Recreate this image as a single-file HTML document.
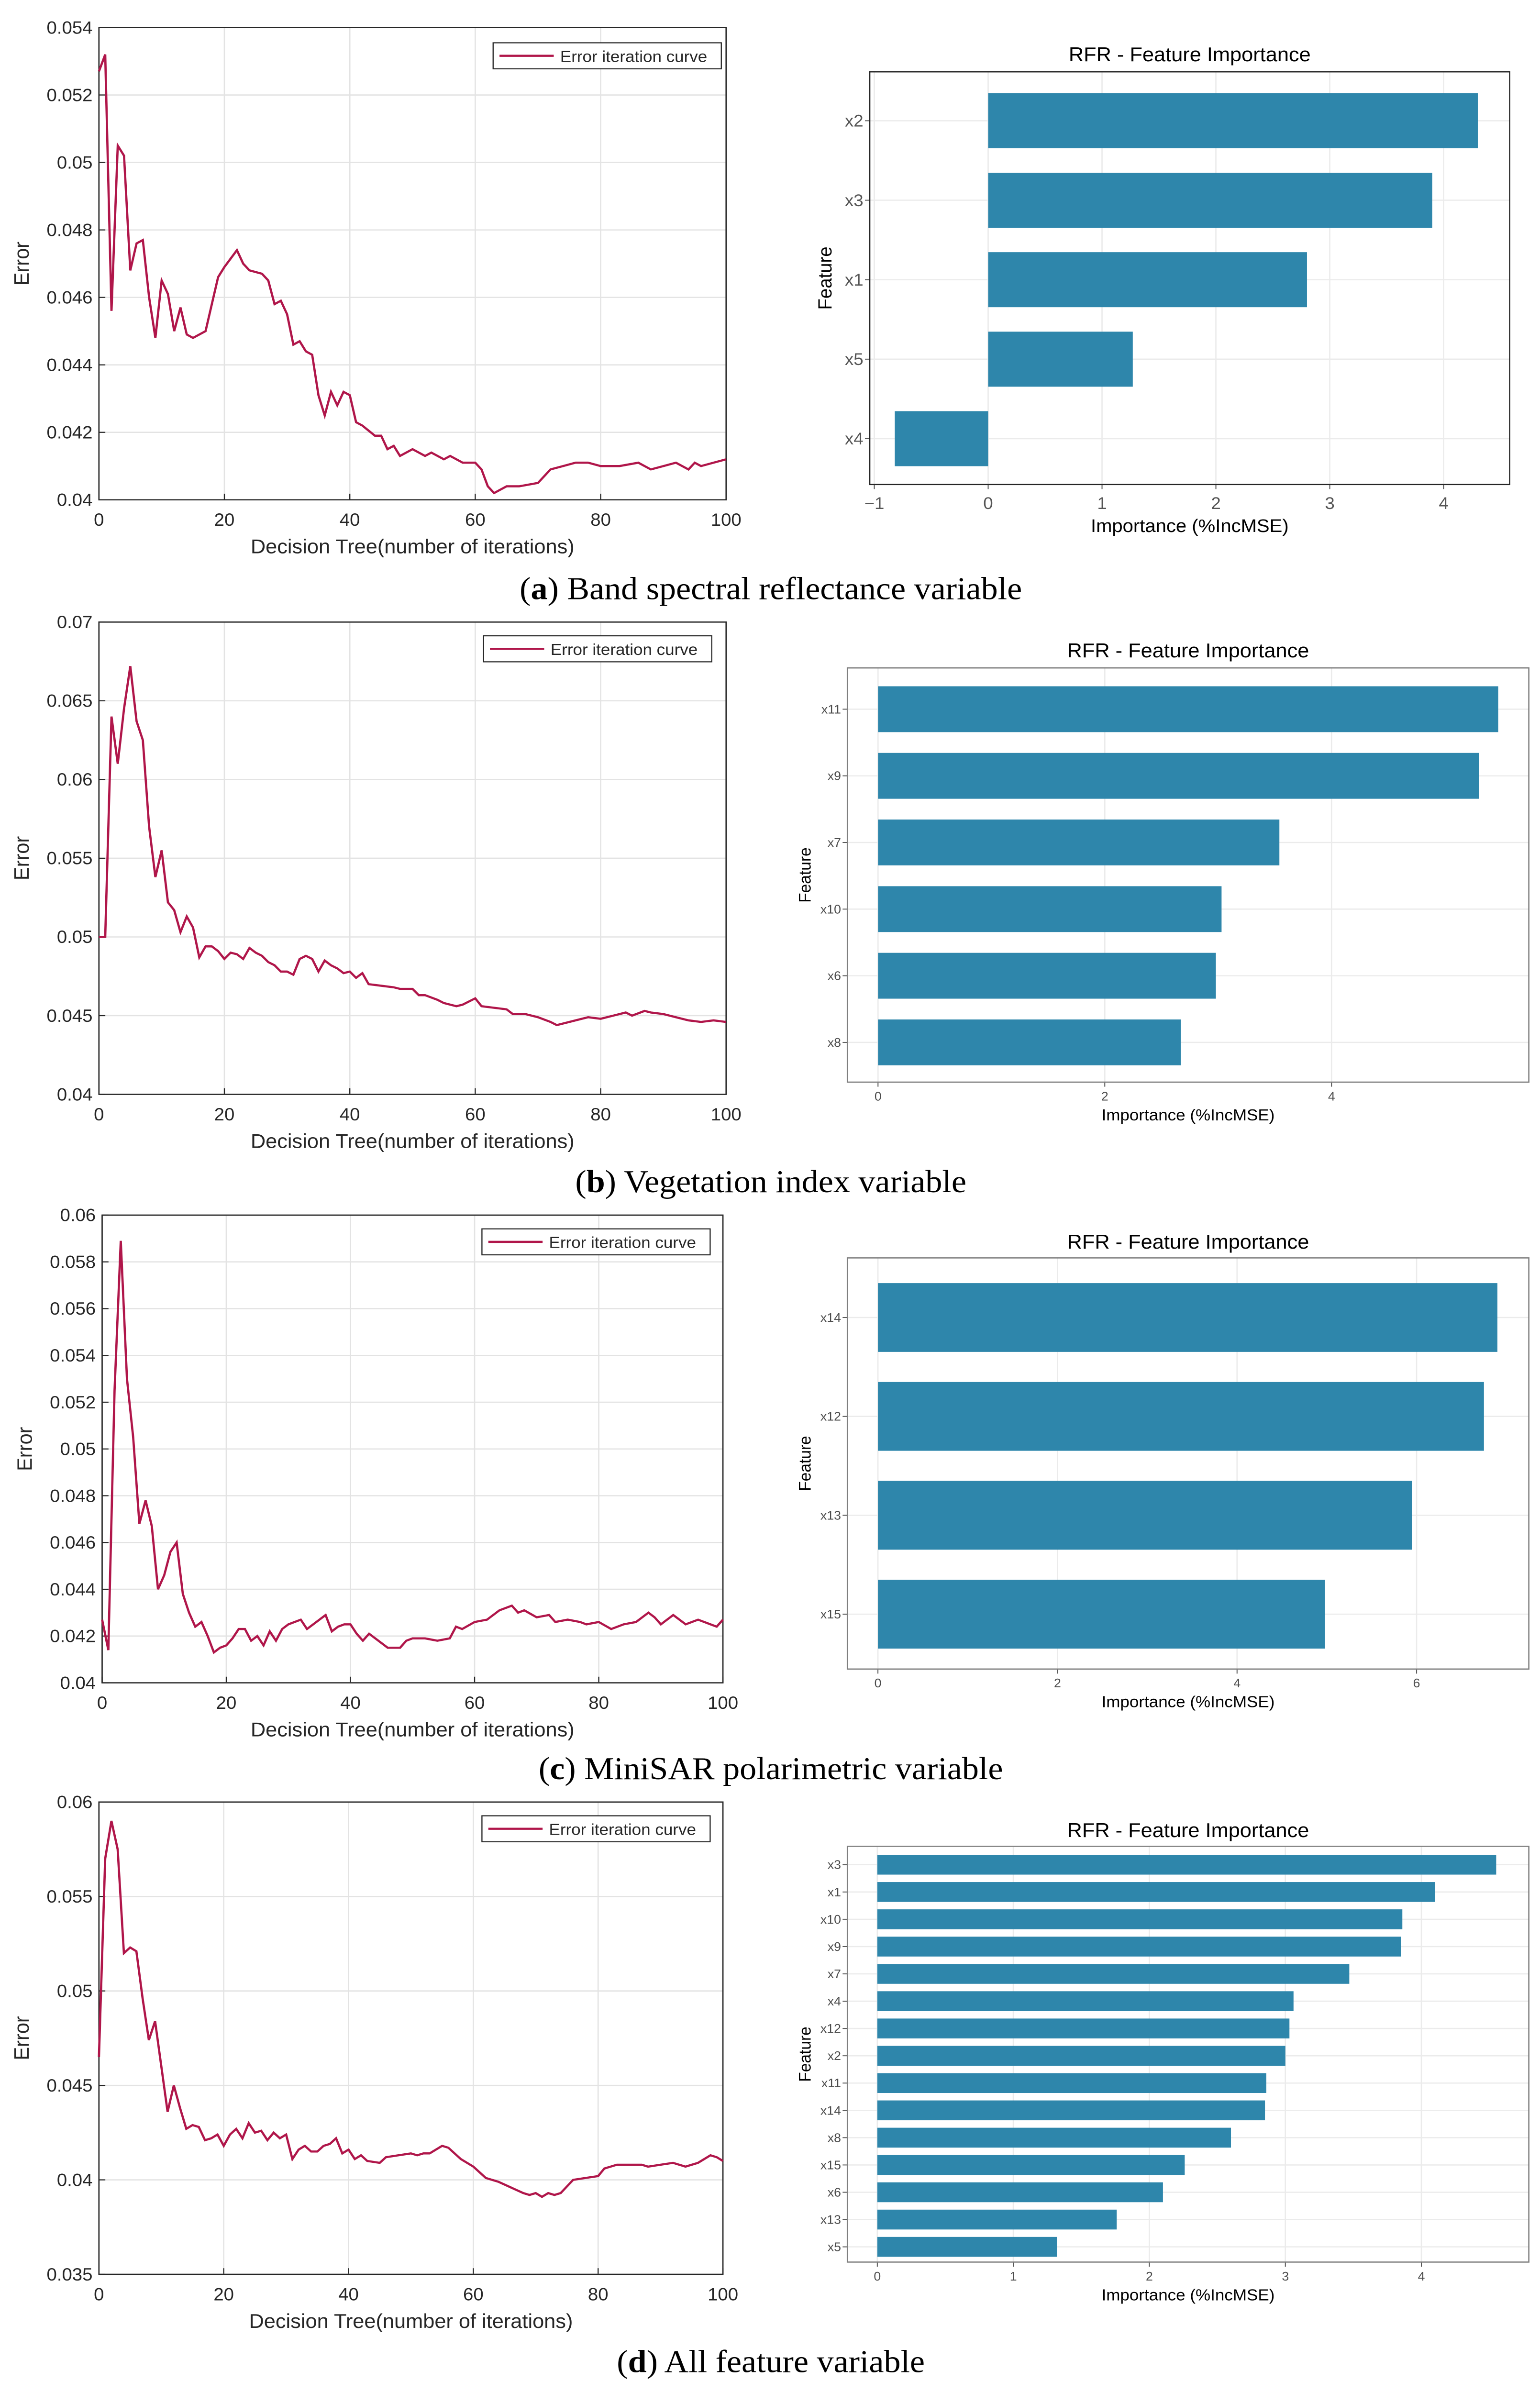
<!DOCTYPE html>
<html><head><meta charset="utf-8">
<style>html,body{margin:0;padding:0;background:#fff;width:100%;height:100%;overflow:hidden}svg{display:block;overflow:hidden;width:100vw;height:100vh}</style>
</head><body>
<svg id="fig" viewBox="0 0 965 1565" preserveAspectRatio="none" xmlns="http://www.w3.org/2000/svg" font-family="Liberation Sans, sans-serif"></svg>
<script>
// ---- Error curve data ----
const aX=[0,1,2,3,4,5,6,7,8,9,10,11,12,13,14,15,17,18,19,20,22,23,24,26,27,28,29,30,31,32,33,34,35,36,37,38,39,40,41,42,44,45,46,47,48,50,52,53,55,56,58,60,61,62,63,64,65,67,70,71,72,74,76,78,80,83,86,88,90,92,94,95,96,98,100];
const aY=[0.0527,0.0532,0.0456,0.0505,0.0502,0.0468,0.0476,0.0477,0.0460,0.0448,0.0465,0.0461,0.0450,0.0457,0.0449,0.0448,0.0450,0.0458,0.0466,0.0469,0.0474,0.0470,0.0468,0.0467,0.0465,0.0458,0.0459,0.0455,0.0446,0.0447,0.0444,0.0443,0.0431,0.0425,0.0432,0.0428,0.0432,0.0431,0.0423,0.0422,0.0419,0.0419,0.0415,0.0416,0.0413,0.0415,0.0413,0.0414,0.0412,0.0413,0.0411,0.0411,0.0409,0.0404,0.0402,0.0403,0.0404,0.0404,0.0405,0.0407,0.0409,0.0410,0.0411,0.0411,0.0410,0.0410,0.0411,0.0409,0.0410,0.0411,0.0409,0.0411,0.0410,0.0411,0.0412];
const bX=[0,1,2,3,4,5,6,7,8,9,10,11,12,13,14,15,16,17,18,19,20,21,22,23,24,25,26,27,28,29,30,31,32,33,34,35,36,37,38,39,40,41,42,43,45,47,48,50,51,52,54,55,57,58,60,61,63,65,66,68,70,72,73,75,77,78,80,82,84,85,87,88,90,92,94,96,98,100];
const bY=[0.050,0.050,0.064,0.061,0.0645,0.0672,0.0637,0.0625,0.057,0.0538,0.0555,0.0522,0.0517,0.0503,0.0513,0.0506,0.0487,0.0494,0.0494,0.0491,0.0486,0.049,0.0489,0.0486,0.0493,0.049,0.0488,0.0484,0.0482,0.0478,0.0478,0.0476,0.0486,0.0488,0.0486,0.0478,0.0485,0.0482,0.0480,0.0477,0.0478,0.0474,0.0477,0.0470,0.0469,0.0468,0.0467,0.0467,0.0463,0.0463,0.0460,0.0458,0.0456,0.0457,0.0461,0.0456,0.0455,0.0454,0.0451,0.0451,0.0449,0.0446,0.0444,0.0446,0.0448,0.0449,0.0448,0.0450,0.0452,0.0450,0.0453,0.0452,0.0451,0.0449,0.0447,0.0446,0.0447,0.0446];
const cX=[0,1,2,3,4,5,6,7,8,9,10,11,12,13,14,15,16,17,18,19,20,21,22,23,24,25,26,27,28,29,30,32,33,34,35,36,37,38,39,40,41,42,43,45,46,48,49,50,52,54,56,57,58,60,62,64,66,67,68,70,72,73,75,77,78,80,82,84,86,88,89,90,92,94,96,98,99,100];
const cY=[0.0427,0.0414,0.0525,0.0589,0.053,0.0505,0.0468,0.0478,0.0467,0.0440,0.0446,0.0456,0.0460,0.0438,0.0430,0.0424,0.0426,0.0420,0.0413,0.0415,0.0416,0.0419,0.0423,0.0423,0.0418,0.0420,0.0416,0.0422,0.0418,0.0423,0.0425,0.0427,0.0423,0.0425,0.0427,0.0429,0.0422,0.0424,0.0425,0.0425,0.0421,0.0418,0.0421,0.0417,0.0415,0.0415,0.0418,0.0419,0.0419,0.0418,0.0419,0.0424,0.0423,0.0426,0.0427,0.0431,0.0433,0.0430,0.0431,0.0428,0.0429,0.0426,0.0427,0.0426,0.0425,0.0426,0.0423,0.0425,0.0426,0.0430,0.0428,0.0425,0.0429,0.0425,0.0427,0.0425,0.0424,0.0427];
const dX=[0,1,2,3,4,5,6,7,8,9,10,11,12,13,14,15,16,17,18,19,20,21,22,23,24,25,26,27,28,29,30,31,32,33,34,35,36,37,38,39,40,41,42,43,45,46,48,50,51,52,53,55,56,58,60,62,64,66,68,69,70,71,72,73,74,76,78,80,81,83,85,87,88,90,92,94,96,98,99,100];
const dY=[0.0465,0.0570,0.0590,0.0575,0.0520,0.0523,0.0521,0.0496,0.0474,0.0484,0.0460,0.0436,0.0450,0.0438,0.0427,0.0429,0.0428,0.0421,0.0422,0.0424,0.0418,0.0424,0.0427,0.0422,0.0430,0.0425,0.0426,0.0421,0.0425,0.0422,0.0424,0.0411,0.0416,0.0418,0.0415,0.0415,0.0418,0.0419,0.0422,0.0414,0.0416,0.0411,0.0413,0.0410,0.0409,0.0412,0.0413,0.0414,0.0413,0.0414,0.0414,0.0418,0.0417,0.0411,0.0407,0.0401,0.0399,0.0396,0.0393,0.0392,0.0393,0.0391,0.0393,0.0392,0.0393,0.0400,0.0401,0.0402,0.0406,0.0408,0.0408,0.0408,0.0407,0.0408,0.0409,0.0407,0.0409,0.0413,0.0412,0.0410];
const aYTicks=[0.04,0.042,0.044,0.046,0.048,0.05,0.052,0.054];
const aYLabels=["0.04","0.042","0.044","0.046","0.048","0.05","0.052","0.054"];
const bYTicks=[0.04,0.045,0.05,0.055,0.06,0.065,0.07];
const bYLabels=["0.04","0.045","0.05","0.055","0.06","0.065","0.07"];
const cYTicks=[0.04,0.042,0.044,0.046,0.048,0.05,0.052,0.054,0.056,0.058,0.06];
const cYLabels=["0.04","0.042","0.044","0.046","0.048","0.05","0.052","0.054","0.056","0.058","0.06"];
const dYTicks=[0.035,0.04,0.045,0.05,0.055,0.06];
const dYLabels=["0.035","0.04","0.045","0.05","0.055","0.06"];
const xTicks=[0,20,40,60,80,100];
const xLabels=["0","20","40","60","80","100"];
// ---- Feature importance data ----
const aFeat=["x2","x3","x1","x5","x4"];
const aImp=[4.3,3.9,2.8,1.27,-0.82];
const aITicks=[-1,0,1,2,3,4];
const aILabels=["−1","0","1","2","3","4"];
const bFeat=["x11","x9","x7","x10","x6","x8"];
const bImp=[5.47,5.3,3.54,3.03,2.98,2.67];
const bITicks=[0,2,4];
const bILabels=["0","2","4"];
const cFeat=["x14","x12","x13","x15"];
const cImp=[6.9,6.75,5.95,4.98];
const cITicks=[0,2,4,6];
const cILabels=["0","2","4","6"];
const dFeat=["x3","x1","x10","x9","x7","x4","x12","x2","x11","x14","x8","x15","x6","x13","x5"];
const dImp=[4.55,4.1,3.86,3.85,3.47,3.06,3.03,3.0,2.86,2.85,2.6,2.26,2.1,1.76,1.32];
const dITicks=[0,1,2,3,4];
const dILabels=["0","1","2","3","4"];

const svg=document.getElementById('fig');
const NS='http://www.w3.org/2000/svg';
function mk(tag,attrs,parent,text){const e=document.createElementNS(NS,tag);for(const k in attrs)e.setAttribute(k,attrs[k]);if(text!==undefined)e.textContent=text;(parent||svg).appendChild(e);return e;}

function lineChart(id,L,R,T,B,ymin,ymax,xs,ys,yt,yl,legX,legY){
  const g=mk('g',{});
  
  
  const sx=v=>L+(v/100)*(R-L), sy=v=>B-(v-ymin)/(ymax-ymin)*(B-T);
  xTicks.forEach((t,i)=>{
    const gl=mk('line',{x1:sx(t),x2:sx(t),y1:T,y2:B,stroke:'#e3e3e3','stroke-width':0.8},g);
    
    
    const tl=mk('text',{x:sx(t),y:B+17,'font-size':11.5,'text-anchor':'middle',fill:'#262626'},g,xLabels[i]);
    
    
    mk('line',{x1:sx(t),x2:sx(t),y1:B,y2:B-4,stroke:'#262626','stroke-width':0.7},g);
  });
  yt.forEach((t,i)=>{
    const gl=mk('line',{x1:L,x2:R,y1:sy(t),y2:sy(t),stroke:'#e3e3e3','stroke-width':0.8},g);
    
    
    const tl=mk('text',{x:L-4,y:sy(t)+4,'font-size':11.5,'text-anchor':'end',fill:'#262626'},g,yl[i]);
    
    
    mk('line',{x1:L,x2:L+4,y1:sy(t),y2:sy(t),stroke:'#262626','stroke-width':0.7},g);
  });
  const box=mk('rect',{x:L,y:T,width:R-L,height:B-T,fill:'none',stroke:'#262626','stroke-width':0.8},g);
  
  
  const d=xs.map((x,i)=>(i?'L':'M')+sx(x).toFixed(2)+','+sy(ys[i]).toFixed(2)).join('');
  const p=mk('path',{d:d,fill:'none',stroke:'#b0164a','stroke-width':1.4},g);
  
  
  const xl=mk('text',{x:(L+R)/2,y:B+35,'font-size':13,'text-anchor':'middle',fill:'#262626'},g,'Decision Tree(number of iterations)');
  
  
  const yx=L-44, yy=(T+B)/2;
  const ylb=mk('text',{x:yx,y:yy,'font-size':13,'text-anchor':'middle',fill:'#262626',transform:`rotate(-90 ${yx} ${yy})`},g,'Error');
  
  
  const lg=mk('g',{},g);
  
  
  mk('rect',{x:legX,y:legY,width:143,height:17,fill:'#fff',stroke:'#262626','stroke-width':0.7},lg);
  mk('line',{x1:legX+4,x2:legX+38,y1:legY+8.5,y2:legY+8.5,stroke:'#b0164a','stroke-width':1.4},lg);
  const lt=mk('text',{x:legX+42,y:legY+12.5,'font-size':10.5,fill:'#262626'},lg,'Error iteration curve');
  
  
}

function barChart(id,L,R,T,B,xmin,xmax,feats,imps,ticks,labels,c0,step,bh,fs,titleY,matlab){
  const g=mk('g',{});
  
  
  const sx=v=>L+(v-xmin)/(xmax-xmin)*(R-L);
  const tcol=matlab?'#555':'#4d4d4d';
  ticks.forEach((t,i)=>{
    const gl=mk('line',{x1:sx(t),x2:sx(t),y1:T,y2:B,stroke:'#ebebeb','stroke-width':0.8},g);
    
    
    mk('line',{x1:sx(t),x2:sx(t),y1:B,y2:B+3,stroke:'#555','stroke-width':0.6},g);
    const tl=mk('text',{x:sx(t),y:B+(matlab?16:12),'font-size':fs,'text-anchor':'middle',fill:tcol},g,labels[i]);
    
    
  });
  feats.forEach((f,i)=>{
    const cy=c0+i*step;
    mk('line',{x1:L,x2:R,y1:cy,y2:cy,stroke:'#ebebeb','stroke-width':0.8},g);
    const v=imps[i];
    const x0=sx(Math.min(0,v)), x1=sx(Math.max(0,v));
    const r=mk('rect',{x:x0,y:cy-bh/2,width:x1-x0,height:bh,fill:'#2e86ab'},g);
    
    
    mk('line',{x1:L-3,x2:L,y1:cy,y2:cy,stroke:'#555','stroke-width':0.6},g);
    const tl=mk('text',{x:L-4,y:cy+fs*0.35,'font-size':fs,'text-anchor':'end',fill:tcol},g,f);
    
    
  });
  const box=mk('rect',{x:L,y:T,width:R-L,height:B-T,fill:'none',stroke:matlab?'#262626':'#7f7f7f','stroke-width':0.8},g);
  
  
  const tt=mk('text',{x:(L+R)/2,y:titleY,'font-size':13,'text-anchor':'middle',fill:'#000'},g,'RFR - Feature Importance');
  
  
  const xl=mk('text',{x:(L+R)/2,y:B+(matlab?31:25),'font-size':matlab?12:10.5,'text-anchor':'middle',fill:'#000'},g,'Importance (%IncMSE)');
  
  
  const yx=matlab?L-24:L-23, yy=(T+B)/2;
  const yl=mk('text',{x:yx,y:yy,'font-size':matlab?12:10.5,'text-anchor':'middle',fill:'#000',transform:`rotate(-90 ${yx} ${yy})`},g,'Feature');
  
  
}

function caption(y,letter,text,id){
  const t=mk('text',{x:483,y:y,'font-size':21,'text-anchor':'middle','font-family':'Liberation Serif, serif',fill:'#000'});
  
  
  mk('tspan',{},t,'(');
  mk('tspan',{'font-weight':'bold'},t,letter);
  mk('tspan',{},t,') '+text);
}

lineChart('a',62,455,18,327,0.04,0.054,aX,aY,aYTicks,aYLabels,309,28);
barChart('a',545,946,47,317,-1.04,4.58,aFeat,aImp,aITicks,aILabels,79,52,36,11,40,true);
caption(392,'a','Band spectral reflectance variable','a');

lineChart('b',62,455,407,716,0.04,0.07,bX,bY,bYTicks,bYLabels,303,416);
barChart('b',531,958,437,708,-0.27,5.74,bFeat,bImp,bITicks,bILabels,464,43.6,30,8,430,false);
caption(780,'b','Vegetation index variable','b');

lineChart('c',64,453,795,1101,0.04,0.06,cX,cY,cYTicks,cYLabels,302,804);
barChart('c',531,958,823,1092,-0.34,7.25,cFeat,cImp,cITicks,cILabels,862,64.7,45,8,817,false);
caption(1164,'c','MiniSAR polarimetric variable','c');

lineChart('d',62,453,1179,1488,0.035,0.06,dX,dY,dYTicks,dYLabels,302,1188);
barChart('d',531,958,1208,1480,-0.22,4.79,dFeat,dImp,dITicks,dILabels,1220,17.86,13,8,1202,false);
caption(1552,'d','All feature variable','d');
</script>
</body></html>
